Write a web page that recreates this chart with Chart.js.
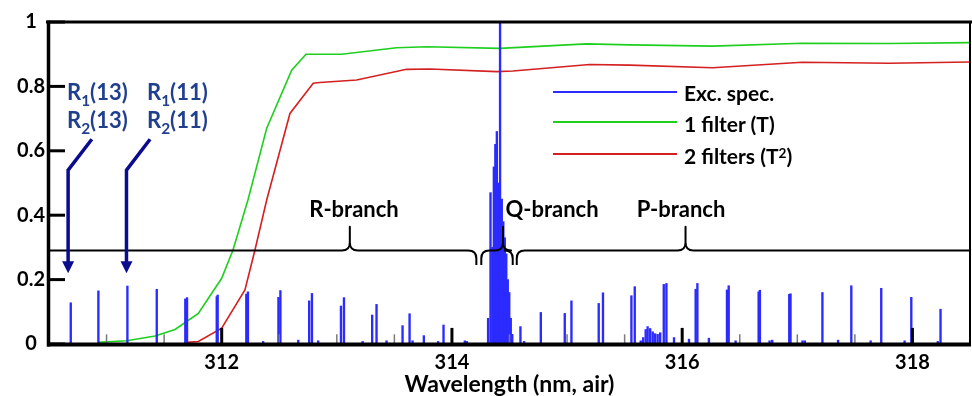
<!DOCTYPE html>
<html><head><meta charset="utf-8">
<script src="https://cdn.jsdelivr.net/npm/chart.js@4.4.1/dist/chart.umd.min.js"></script>
<style>
html,body{margin:0;padding:0;background:#fff;}
#wrap{position:relative;width:972px;height:396px;overflow:hidden;}
canvas{position:absolute;left:0;top:0;}
.t{position:absolute;font-family:Lato,sans-serif;font-weight:700;line-height:1;white-space:nowrap;color:#000;}
.ann{font-size:22px;transform:translateX(-50%);}
.lbl{font-size:22px;color:#203f8f;}
.leg{font-size:21px;left:684px;}
.sw{position:absolute;height:2px;left:553px;width:124px;}
sub{font-size:0.7em;line-height:0;position:relative;vertical-align:baseline;top:0.4em;}
sup{font-size:0.65em;line-height:0;position:relative;vertical-align:baseline;top:-0.45em;}
</style></head><body>
<div id="wrap">
<canvas id="c" width="972" height="396"></canvas>
<div class="t ann" style="left:354px;top:198px">R-branch</div>
<div class="t ann" style="left:552px;top:198px">Q-branch</div>
<div class="t ann" style="left:681px;top:198px">P-branch</div>
<div class="t lbl" style="left:67px;top:81px">R<sub>1</sub>(13)</div>
<div class="t lbl" style="left:67px;top:109px">R<sub>2</sub>(13)</div>
<div class="t lbl" style="left:147px;top:81px">R<sub>1</sub>(11)</div>
<div class="t lbl" style="left:147px;top:109px">R<sub>2</sub>(11)</div>
<div class="sw" style="top:91px;background:#2b2bff"></div>
<div class="sw" style="top:121px;background:#1ecf1e"></div>
<div class="sw" style="top:153px;background:#d42020"></div>
<div class="t leg" style="top:81.5px">Exc. spec.</div>
<div class="t leg" style="top:113px">1 filter (T)</div>
<div class="t leg" style="top:144.8px">2 filters (T<sup>2</sup>)</div>
</div>
<script>
// ---- data ----
const xRange = [310.5, 318.5];
const yRange = [0, 1];
const xTicks = [312, 314, 316, 318];
const xMinorTicks = [311, 311.5, 312.5, 313, 313.5, 314.5, 315, 315.5, 316.5, 317, 317.5];
const yTicks = [0, 0.2, 0.4, 0.6, 0.8, 1];

// 1 filter transmission (T)
const t1Wl  = [310.926, 311.175, 311.421, 311.595, 311.797, 312.0, 312.098, 312.228, 312.391, 312.608, 312.732, 313.042, 313.519, 313.78, 314.416, 315.168, 315.544, 316.265, 317.043, 317.8, 318.5];
const t1Val = [0.005, 0.01, 0.025, 0.045, 0.095, 0.204, 0.292, 0.447, 0.67, 0.85, 0.90, 0.90, 0.92, 0.923, 0.918, 0.932, 0.929, 0.925, 0.934, 0.933, 0.936];

// 2 filters transmission (T^2)
const t2Wl  = [311.696, 311.797, 312.0, 312.202, 312.289, 312.391, 312.593, 312.795, 312.853, 313.172, 313.606, 313.808, 314.387, 314.53, 315.197, 315.544, 316.265, 317.043, 317.8, 318.5];
const t2Val = [0.005, 0.008, 0.049, 0.168, 0.292, 0.447, 0.716, 0.81, 0.812, 0.82, 0.853, 0.854, 0.846, 0.848, 0.868, 0.866, 0.858, 0.875, 0.872, 0.876];

// excitation spectrum lines
const excWl = [310.689, 310.929, 311.181, 311.436, 311.684, 311.699, 311.957, 311.965, 312.214, 312.228,
  312.360, 312.493, 312.510, 312.665, 312.760, 312.784, 312.838, 313.036, 313.062, 313.224,
  313.307, 313.345, 313.432, 313.571, 313.632, 313.658, 313.756, 313.880, 313.927, 314.112,
  314.130, 314.314, 314.335, 314.351, 314.364, 314.377, 314.390, 314.403, 314.418, 314.433,
  314.446, 314.459, 314.472, 314.485, 314.498, 314.511, 314.524, 314.595, 314.627, 314.772,
  314.980, 315.038, 315.275, 315.312, 315.559, 315.588, 315.640, 315.661, 315.683, 315.700,
  315.722, 315.744, 315.765, 315.787, 315.809, 315.840, 315.863, 315.929, 316.059, 316.117,
  316.132, 316.232, 316.389, 316.404, 316.464, 316.664, 316.675, 316.759, 316.782, 316.930,
  316.941, 317.045, 317.065, 317.218, 317.354, 317.469, 317.637, 317.729, 317.932, 317.990,
  318.220, 318.244];
const excInt = [0.128, 0.165, 0.180, 0.170, 0.140, 0.144, 0.147, 0.152, 0.155, 0.162,
  0.008, 0.145, 0.166, 0.012, 0.134, 0.157, 0.010, 0.118, 0.144, 0.008,
  0.090, 0.123, 0.010, 0.057, 0.094, 0.010, 0.026, 0.008, 0.059, 0.010,
  0.008, 0.080, 0.470, 0.300, 0.550, 0.620, 0.660, 0.500, 1.000, 0.450,
  0.380, 0.330, 0.280, 0.200, 0.160, 0.080, 0.030, 0.054, 0.008, 0.098,
  0.095, 0.134, 0.126, 0.159, 0.150, 0.178, 0.010, 0.020, 0.045, 0.054,
  0.048, 0.038, 0.032, 0.030, 0.035, 0.185, 0.188, 0.020, 0.015, 0.170,
  0.188, 0.018, 0.168, 0.181, 0.010, 0.162, 0.167, 0.010, 0.012, 0.154,
  0.156, 0.010, 0.010, 0.160, 0.012, 0.181, 0.010, 0.173, 0.010, 0.145,
  0.008, 0.108];

// ---- annotation geometry (data coordinates) ----
const braceY = 0.29, braceTipY = 0.364, braceEndY = 0.245;
const braces = [
  {x1: 310.5, x2: 314.212, tip: 313.113, curlL: false, curlR: true},
  {x1: 314.255, x2: 314.528, tip: 314.444, curlL: true, curlR: true},
  {x1: 314.563, x2: 318.5, tip: 316.029, curlL: true, curlR: false}
];
const arrows = [
  [[310.872, 0.636], [310.666, 0.540], [310.666, 0.2196]],
  [[311.378, 0.636], [311.173, 0.540], [311.173, 0.2196]]
];

const BLUE = '#2b2bff', GREEN = '#1ecf1e', RED = '#d42020', NAVY = '#0b0b8f';
const tickFont = {family: 'Lato', size: 20, weight: 'bold'};

const decor = {
  id: 'decor',
  afterDatasetsDraw(chart) {
    const {ctx, chartArea: a, scales: {x, y}} = chart;
    const L = (x1, y1, x2, y2) => { ctx.beginPath(); ctx.moveTo(x1, y1); ctx.lineTo(x2, y2); ctx.stroke(); };
    ctx.save();
    ctx.lineCap = 'butt';
    const y0 = y.getPixelForValue(0);
    // minor x ticks (inward)
    ctx.strokeStyle = '#7a7a7a'; ctx.lineWidth = 1.5;
    xMinorTicks.forEach(v => { const p = x.getPixelForValue(v); L(p, y0, p, y.getPixelForValue(0.03)); });
    // major x ticks (inward)
    ctx.strokeStyle = '#000'; ctx.lineWidth = 3;
    xTicks.forEach(v => { const p = x.getPixelForValue(v); L(p, y0, p, y.getPixelForValue(0.05)); });
    // y ticks (inward)
    yTicks.forEach(v => { const p = y.getPixelForValue(v); L(a.left, p, a.left + 16, p); });
    // braces
    ctx.lineWidth = 2; ctx.lineJoin = 'round';
    const Y0 = y.getPixelForValue(braceY), YT = y.getPixelForValue(braceTipY), YE = y.getPixelForValue(braceEndY);
    const r = 8;
    braces.forEach(b => {
      const X1 = x.getPixelForValue(b.x1), X2 = x.getPixelForValue(b.x2), XT = x.getPixelForValue(b.tip);
      ctx.beginPath();
      if (b.curlL) { ctx.moveTo(X1, YE); ctx.lineTo(X1, Y0 + r); ctx.quadraticCurveTo(X1, Y0, X1 + r, Y0); }
      else ctx.moveTo(X1, Y0);
      ctx.lineTo(XT - r, Y0);
      ctx.quadraticCurveTo(XT, Y0, XT, Y0 - r);
      ctx.lineTo(XT, YT);
      ctx.lineTo(XT, Y0 - r);
      ctx.quadraticCurveTo(XT, Y0, XT + r, Y0);
      if (b.curlR) { ctx.lineTo(X2 - r, Y0); ctx.quadraticCurveTo(X2, Y0, X2, Y0 + r); ctx.lineTo(X2, YE); }
      else ctx.lineTo(X2, Y0);
      ctx.stroke();
    });
    // arrows
    ctx.strokeStyle = NAVY; ctx.fillStyle = NAVY; ctx.lineWidth = 3.5; ctx.lineJoin = 'miter';
    arrows.forEach(pts => {
      const P = pts.map(p => [x.getPixelForValue(p[0]), y.getPixelForValue(p[1])]);
      const tip = P[P.length - 1], hl = 12, hw = 12;
      ctx.beginPath(); ctx.moveTo(P[0][0], P[0][1]);
      for (let i = 1; i < P.length - 1; i++) ctx.lineTo(P[i][0], P[i][1]);
      ctx.lineTo(tip[0], tip[1] - hl + 1); ctx.stroke();
      ctx.beginPath(); ctx.moveTo(tip[0], tip[1]); ctx.lineTo(tip[0] - hw / 2, tip[1] - hl); ctx.lineTo(tip[0] + hw / 2, tip[1] - hl); ctx.closePath(); ctx.fill();
    });
    // frame
    ctx.strokeStyle = '#000';
    ctx.lineWidth = 3; L(a.left - 3, a.top, 972, a.top);
    ctx.lineWidth = 2; L(a.right, a.top, a.right, a.bottom + 2);
    ctx.lineWidth = 3.5; L(a.left - 0.5, a.top - 1.5, a.left - 0.5, a.bottom + 2.5);
    ctx.lineWidth = 4; L(a.left - 2, a.bottom + 0.5, a.right + 1, a.bottom + 0.5);
    ctx.restore();
  }
};

new Chart(document.getElementById('c'), {
  type: 'line',
  data: {
    datasets: [
      {label: 'Exc. spec.', type: 'bar', data: excWl.map((v, i) => ({x: v, y: excInt[i]})),
       backgroundColor: BLUE, borderWidth: 0, barThickness: 1.7, grouped: false, order: 0},
      {label: '1 filter (T)', data: t1Wl.map((v, i) => ({x: v, y: t1Val[i]})),
       borderColor: GREEN, borderWidth: 1.6, pointRadius: 0, tension: 0, fill: false, order: 1},
      {label: '2 filters (T²)', data: t2Wl.map((v, i) => ({x: v, y: t2Val[i]})),
       borderColor: RED, borderWidth: 1.6, pointRadius: 0, tension: 0, fill: false, order: 2}
    ]
  },
  options: {
    responsive: false, animation: false, events: [],
    layout: {padding: {top: 22, right: 2, left: 0, bottom: 0}},
    plugins: {legend: {display: false}, tooltip: {enabled: false}},
    scales: {
      x: {
        type: 'linear', min: xRange[0], max: xRange[1], offset: false,
        grid: {display: false, drawTicks: false}, border: {display: false},
        afterBuildTicks: s => { s.ticks = xTicks.map(v => ({value: v})); },
        afterFit: s => { s.height = 52; },
        ticks: {font: tickFont, color: '#000', padding: 7, maxRotation: 0, callback: v => String(v)},
        title: {display: true, text: 'Wavelength (nm, air)', color: '#000',
                font: {family: 'Lato', size: 23, weight: 'bold', lineHeight: 1}, padding: {top: 0, bottom: 0}}
      },
      y: {
        min: yRange[0], max: yRange[1],
        grid: {display: false, drawTicks: false}, border: {display: false},
        afterBuildTicks: s => { s.ticks = yTicks.map(v => ({value: v})); },
        afterFit: s => { s.width = 49; },
        ticks: {font: tickFont, color: '#000', padding: 4, crossAlign: 'center', callback: v => String(v)}
      }
    }
  },
  plugins: [decor]
});
</script>
</body></html>
